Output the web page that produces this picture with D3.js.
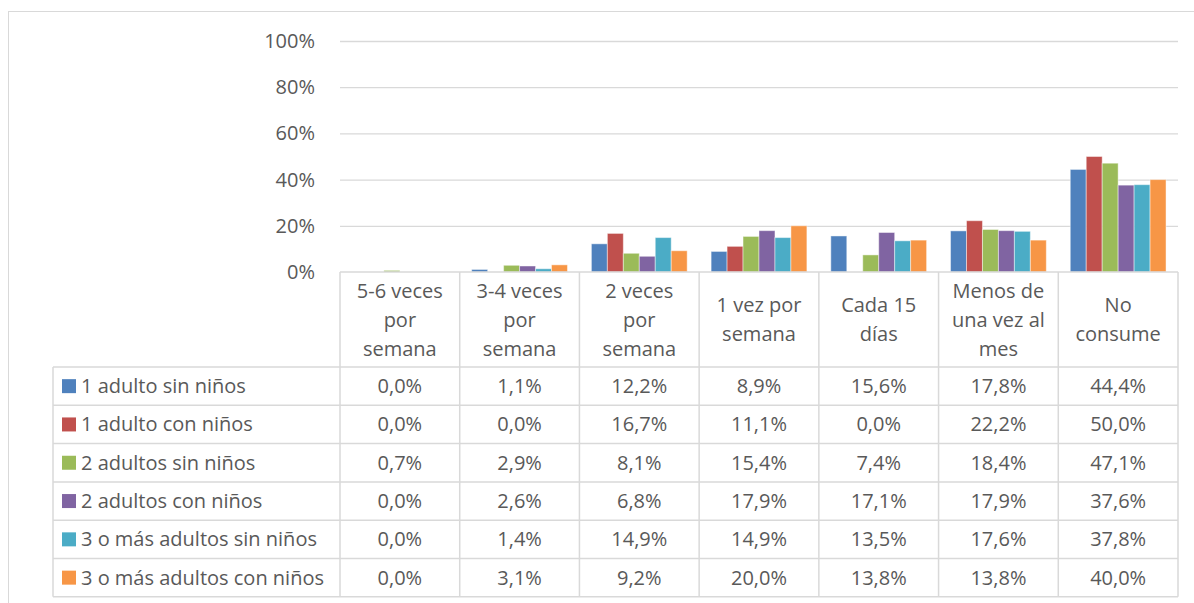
<!DOCTYPE html>
<html>
<head>
<meta charset="utf-8">
<script src="https://cdn.jsdelivr.net/npm/d3@7"></script>
<style>
  body { margin: 0; background: #fff; }
  text { font-family: "Open Sans", sans-serif; fill: #595959; }
</style>
</head>
<body>
<div class="chart"></div>
<script>
// categories, header lines as shown in the table
var categories = ["5-6 veces por semana", "3-4 veces por semana", "2 veces por semana",
  "1 vez por semana", "Cada 15 días", "Menos de una vez al mes", "No consume"];
var headerLines = [
  ["5-6 veces", "por", "semana"],
  ["3-4 veces", "por", "semana"],
  ["2 veces", "por", "semana"],
  ["1 vez por", "semana"],
  ["Cada 15", "días"],
  ["Menos de", "una vez al", "mes"],
  ["No", "consume"]
];
var seriesNames = ["1 adulto sin niños", "1 adulto con niños", "2 adultos sin niños",
  "2 adultos con niños", "3 o más adultos sin niños", "3 o más adultos con niños"];
var seriesColors = ["#4F81BD", "#C0504D", "#9BBB59", "#8064A2", "#4BACC6", "#F79646"];

// values in percent
var s1 = [0.0, 1.1, 12.2, 8.9, 15.6, 17.8, 44.4];
var s2 = [0.0, 0.0, 16.7, 11.1, 0.0, 22.2, 50.0];
var s3 = [0.7, 2.9, 8.1, 15.4, 7.4, 18.4, 47.1];
var s4 = [0.0, 2.6, 6.8, 17.9, 17.1, 17.9, 37.6];
var s5 = [0.0, 1.4, 14.9, 14.9, 13.5, 17.6, 37.8];
var s6 = [0.0, 3.1, 9.2, 20.0, 13.8, 13.8, 40.0];
var seriesValues = [s1, s2, s3, s4, s5, s6];
var yTicks = [0, 20, 40, 60, 80, 100];

var width = 1194, height = 603;
var plotLeft = 340, plotRight = 1178, plotTop = 41, plotBottom = 272;
var headerBottom = 367, rowH = 38.3, tableLeft = 53;
var fontSize = 20;
var lineCol = "#D9D9D9";

var svg = d3.select(".chart").append("svg")
  .attr("width", width).attr("height", height);

// chart area border
svg.append("rect")
  .attr("x", 8.5).attr("y", 11.5)
  .attr("width", 1300).attr("height", 700)
  .attr("fill", "#fff").attr("stroke", lineCol);

var x0 = d3.scaleBand().domain(categories).range([plotLeft, plotRight]);
var x1 = d3.scaleBand().domain(seriesNames)
  .range([x0.bandwidth() * 0.1, x0.bandwidth() * 0.9]);
var y = d3.scaleLinear().domain([0, 100]).range([plotBottom, plotTop]);

// gridlines
svg.append("g")
  .attr("transform", "translate(" + plotLeft + ",0)")
  .call(d3.axisLeft(y).tickValues(yTicks.slice(1)).tickSize(-(plotRight - plotLeft)).tickFormat(""))
  .call(function (g) { g.select(".domain").remove(); })
  .selectAll("line").attr("stroke", lineCol).attr("stroke-width", 1.3);

// y labels
svg.append("g")
  .attr("transform", "translate(" + (plotLeft - 22) + ",0)")
  .call(d3.axisLeft(y).tickValues(yTicks).tickSize(0).tickFormat(function (d) { return d + "%"; }))
  .call(function (g) { g.select(".domain").remove(); })
  .selectAll("text")
  .style("font-size", fontSize + "px")
  .style("font-family", "'Open Sans', sans-serif")
  .attr("fill", "#595959");

// bars
var groups = svg.append("g").selectAll("g")
  .data(categories)
  .enter().append("g")
  .attr("transform", function (d) { return "translate(" + x0(d) + ",0)"; });

groups.selectAll("rect")
  .data(function (c, ci) {
    return seriesNames.map(function (s, si) { return { s: s, si: si, v: seriesValues[si][ci] }; });
  })
  .enter().append("rect")
  .attr("x", function (d) { return x1(d.s); })
  .attr("width", x1.bandwidth())
  .attr("y", function (d) { return y(d.v); })
  .attr("height", function (d) { return y(0) - y(d.v); })
  .attr("fill", function (d) { return seriesColors[d.si]; })
  .attr("stroke", "#fff").attr("stroke-opacity", 0.45).attr("stroke-width", 1);

// data table
var table = svg.append("g").attr("stroke", lineCol).attr("stroke-width", 1.5);
var tableBottom = headerBottom + rowH * seriesNames.length;
// top line (axis) across categories
table.append("line").attr("x1", plotLeft).attr("x2", plotRight).attr("y1", plotBottom).attr("y2", plotBottom);
// horizontal row lines
d3.range(seriesNames.length + 1).forEach(function (i) {
  var yy = headerBottom + i * rowH;
  table.append("line").attr("x1", tableLeft).attr("x2", plotRight).attr("y1", yy).attr("y2", yy);
});
// vertical lines
table.append("line").attr("x1", tableLeft).attr("x2", tableLeft).attr("y1", headerBottom).attr("y2", tableBottom);
x0.domain().concat(["end"]).forEach(function (c, i) {
  var xx = plotLeft + i * x0.step();
  table.append("line").attr("x1", xx).attr("x2", xx).attr("y1", plotBottom).attr("y2", tableBottom);
});

// header labels
var lineGap = 29;
categories.forEach(function (c, ci) {
  var lines = headerLines[ci];
  var cx = x0(c) + x0.bandwidth() / 2;
  var cy = (plotBottom + headerBottom) / 2;
  var t = svg.append("text")
    .attr("text-anchor", "middle")
    .style("font-size", fontSize + "px");
  lines.forEach(function (l, li) {
    t.append("tspan")
      .attr("x", cx)
      .attr("y", cy + (li - (lines.length - 1) / 2) * lineGap)
      .attr("dy", "0.35em")
      .text(l);
  });
});

var fmt = function (v) { return d3.format(".1f")(v).replace(".", ",") + "%"; };

// rows: legend key, name, values
seriesNames.forEach(function (s, si) {
  var cy = headerBottom + si * rowH + rowH / 2;
  svg.append("rect")
    .attr("x", 62).attr("y", cy - 7)
    .attr("width", 14).attr("height", 14)
    .attr("fill", seriesColors[si]);
  svg.append("text")
    .attr("x", 81).attr("y", cy).attr("dy", "0.35em")
    .style("font-size", fontSize + "px")
    .text(s);
  categories.forEach(function (c, ci) {
    svg.append("text")
      .attr("x", x0(c) + x0.bandwidth() / 2)
      .attr("y", cy).attr("dy", "0.35em")
      .attr("text-anchor", "middle")
      .style("font-size", fontSize + "px")
      .text(fmt(seriesValues[si][ci]));
  });
});
</script>
</body>
</html>
